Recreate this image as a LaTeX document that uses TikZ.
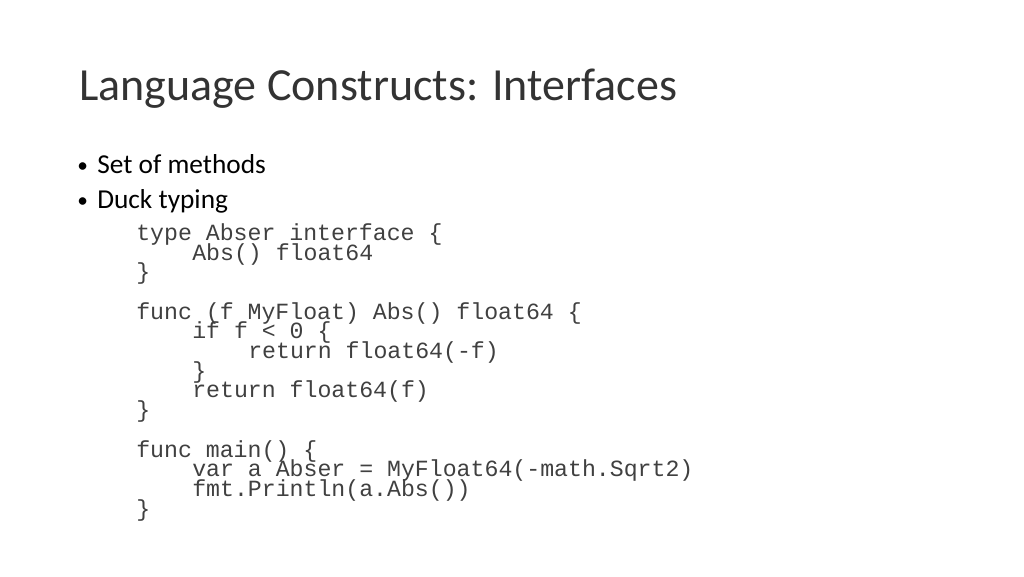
\documentclass[tikz,border=0pt]{standalone}
\usepackage{fontspec}
\setmainfont{Carlito}
\newfontfamily\codefont{Liberation Mono}
\tikzset{
  title/.style={anchor=base west, inner sep=0pt, text=black!80, font=\fontsize{34.5}{40}\selectfont},
  bullet/.style={anchor=base west, inner sep=0pt, font=\fontsize{20.5}{24}\selectfont},
  dotmark/.style={anchor=base west, inner sep=0pt, font=\fontsize{16}{20}\selectfont},
  codeline/.style={anchor=base west, inner sep=0pt, font=\codefont\fontsize{17.4}{20}\selectfont, text=black!75}
}
\begin{document}
\begin{tikzpicture}[x=0.75pt,y=-0.75pt]
    \useasboundingbox[fill=white] (0,0) rectangle (1024,576);

    \node[title] (heading) at (79,100) {Language Constructs: Interfaces};

    \node[dotmark] (dotone) at (77,172) {\textbullet};
    \node[bullet] (setof) at (97,173) {Set of methods};
    \node[dotmark] (dottwo) at (77,207) {\textbullet};
    \node[bullet] (duck) at (97,208) {Duck typing};

    % interface
    \node[codeline] (lone) at (136,240) {type Abser interface \{};
    \node[codeline] (ltwo) at (192,260) {Abs() float64};
    \node[codeline] (lthree) at (136,279) {\}};

    % method
    \node[codeline] (lfour) at (136,319) {func (f MyFloat) Abs() float64 \{};
    \node[codeline] (lfive) at (192,338) {if f < 0 \{};
    \node[codeline] (lsix) at (248,358) {return float64(-f)};
    \node[codeline] (lseven) at (192,378) {\}};
    \node[codeline] (leight) at (192,397) {return float64(f)};
    \node[codeline] (lnine) at (136,417) {\}};

    % main
    \node[codeline] (lten) at (136,457) {func main() \{};
    \node[codeline] (leleven) at (192,476) {var a Abser = MyFloat64(-math.Sqrt2)};
    \node[codeline] (ltwelve) at (192,496) {fmt.Println(a.Abs())};
    \node[codeline] (lthirteen) at (136,516) {\}};
\end{tikzpicture}
\end{document}
